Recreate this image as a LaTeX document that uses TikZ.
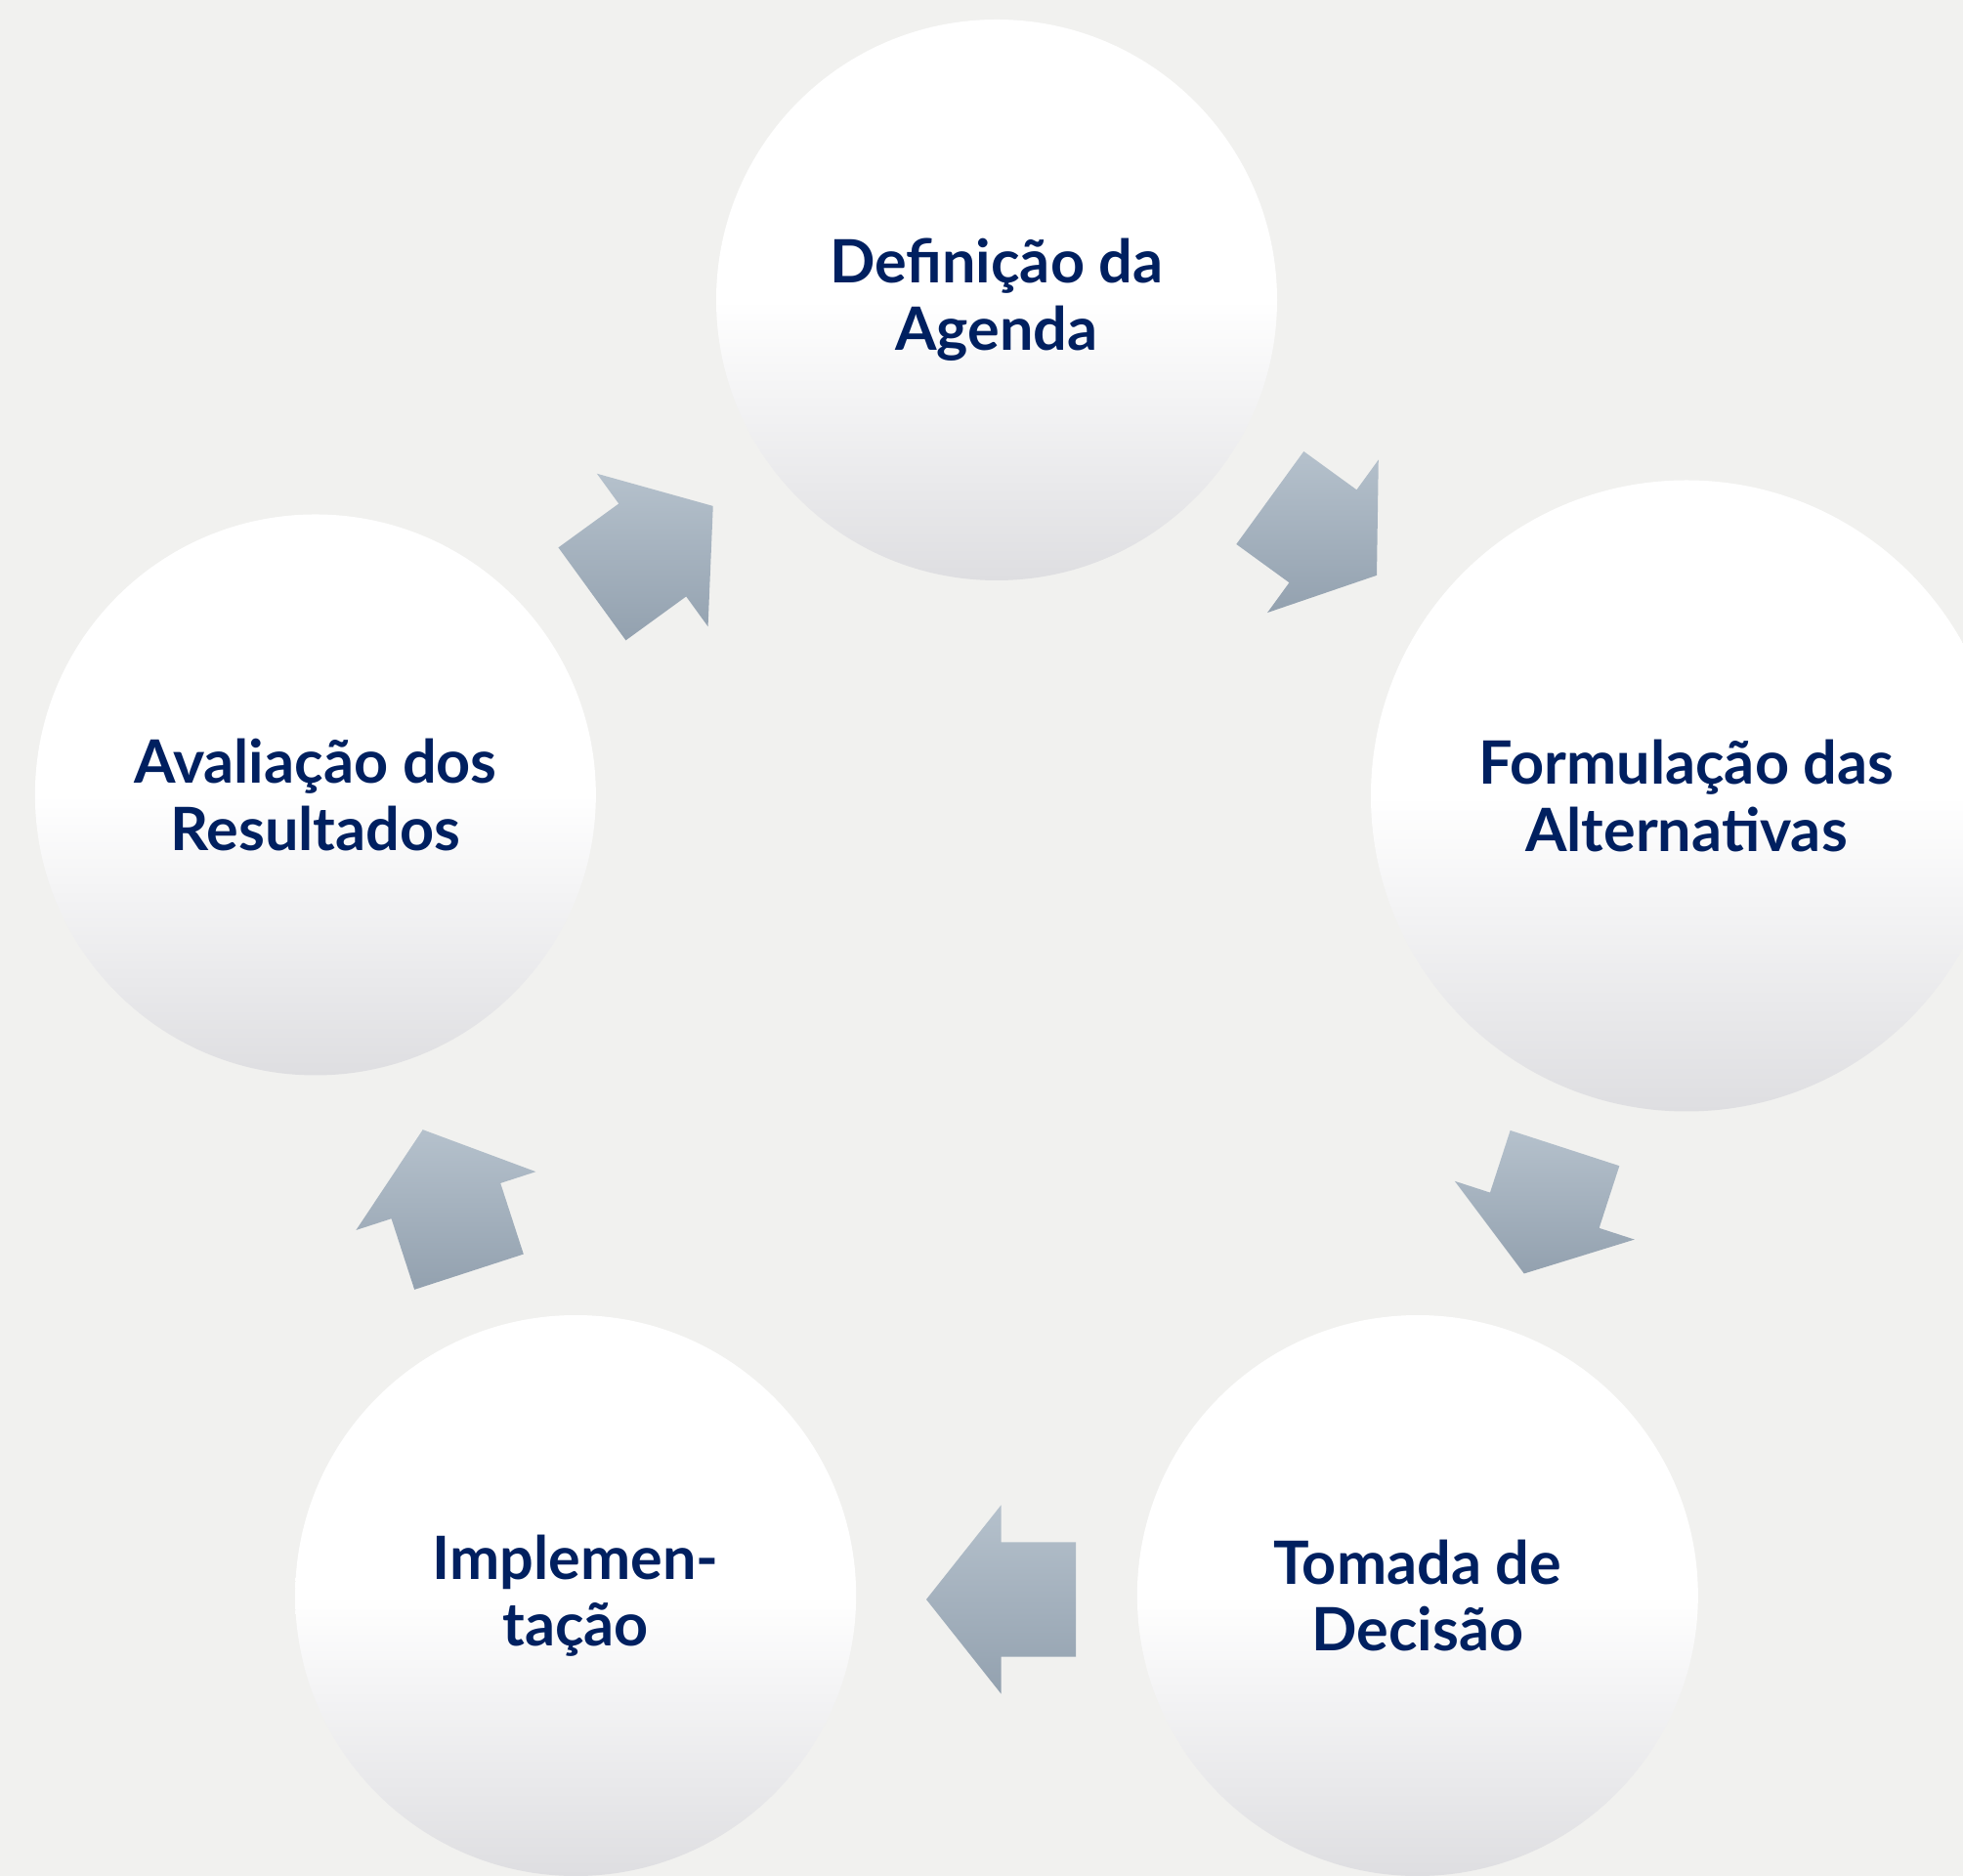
\documentclass[tikz,border=0pt]{standalone}
\usepackage{fontspec}
\setmainfont{Lato}
\usetikzlibrary{shapes.arrows}
\definecolor{bgcol}{HTML}{F1F1EF}
\definecolor{stagetext}{HTML}{002060}
\definecolor{stagebot}{HTML}{DEDEE1}
\definecolor{arrowtop}{HTML}{B5C1CC}
\definecolor{arrowbot}{HTML}{93A1AF}
\tikzset{
    stage/.style={circle, minimum size=5.74cm, inner sep=0pt, top color=white, bottom color=stagebot, middle color=white, text=stagetext, align=center, font=\fontsize{17.4}{19.5}\selectfont\bfseries}, % the circles of the cycle
    cyclearrow/.style={single arrow, anchor=tail, inner xsep=0pt, inner ysep=0.58cm, single arrow head extend=0.38cm, top color=arrowtop, bottom color=arrowbot}, % the block arrows between them
    longarrow/.style={cyclearrow, minimum height=1.53cm, single arrow tip angle=103.2},
    shortarrow/.style={cyclearrow, minimum height=1.35cm, single arrow tip angle=109.7},
}
\begin{document}
\begin{tikzpicture}
    \path[use as bounding box, fill=bgcol] (-10.20,-8.80) rectangle (9.89,10.40);
    \clip (-10.20,-8.80) rectangle (9.89,10.40);
    \node[stage] (s1) at (90:7.33) {Definição da\\Agenda};
    \node[stage, minimum size=6.46cm] (s2) at (7.06,2.255) {Formulação das\\Alternativas};
    \node[stage] (s3) at (-54:7.33) {Tomada de\\Decisão};
    \node[stage] (s4) at (-126:7.33) {Implemen-\\tação};
    \node[stage] (s5) at (162:7.33) {Avaliação dos\\Resultados};
    % arrows placed by their tails
    \node[shortarrow, rotate=-36] (a1) at ([shift={(144:0.675)}]55.8:5.94) {};
    \node[shortarrow, rotate=-108] (a2) at ([shift={(72:0.675)}]-19.5:5.95) {};
    \node[longarrow, rotate=180] (a3) at ([shift={(0:0.765)}]-89.5:5.97) {};
    \node[longarrow, rotate=108] (a4) at ([shift={(-72:0.765)}]-161.4:5.945) {};
    \node[longarrow, rotate=36] (a5) at ([shift={(-144:0.765)}]126.5:5.93) {};
\end{tikzpicture}
\end{document}
